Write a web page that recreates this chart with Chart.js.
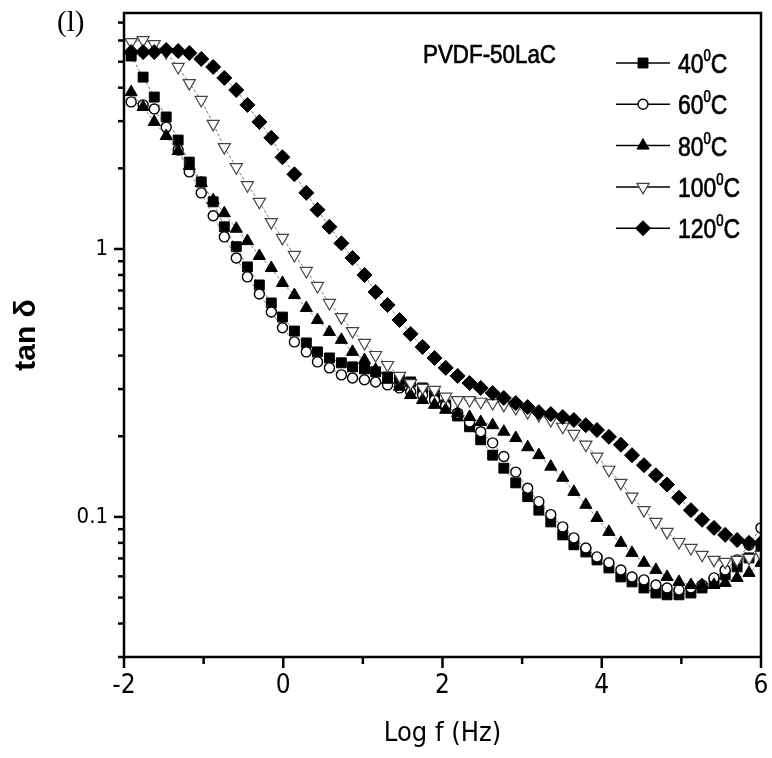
<!DOCTYPE html>
<html><head><meta charset="utf-8">
<script src="https://cdn.jsdelivr.net/npm/chart.js@4"></script>
<style>html,body{margin:0;padding:0;background:#fff}</style>
</head><body>
<canvas id="c" width="772" height="758"></canvas>
<script>
// ---- data ----
const logF = [-1.91,-1.76,-1.62,-1.47,-1.32,-1.18,-1.03,-0.88,-0.74,-0.59,-0.45,-0.30,-0.15,-0.01,0.14,0.29,0.43,0.58,0.73,0.87,1.02,1.16,1.31,1.46,1.60,1.75,1.90,2.04,2.19,2.34,2.48,2.63,2.77,2.92,3.07,3.21,3.36,3.51,3.65,3.80,3.94,4.09,4.24,4.38,4.53,4.68,4.82,4.97,5.12,5.26,5.41,5.55,5.70,5.85,6.00];
const tan40 = [5.25,4.38,3.69,3.11,2.55,2.11,1.78,1.50,1.21,1.02,0.857,0.734,0.629,0.557,0.494,0.446,0.413,0.392,0.376,0.363,0.357,0.348,0.333,0.325,0.319,0.303,0.285,0.262,0.238,0.217,0.194,0.170,0.152,0.134,0.119,0.106,0.0958,0.0857,0.0787,0.0740,0.0691,0.0645,0.0597,0.0572,0.0543,0.0520,0.0512,0.0512,0.0520,0.0543,0.0572,0.0608,0.0651,0.0703,0.0766];
const tan60 = [3.54,3.45,3.33,2.85,2.34,1.94,1.62,1.33,1.11,0.926,0.787,0.679,0.582,0.508,0.450,0.413,0.379,0.360,0.339,0.330,0.325,0.319,0.311,0.303,0.293,0.285,0.273,0.260,0.244,0.226,0.208,0.189,0.168,0.147,0.128,0.114,0.102,0.0918,0.0835,0.0766,0.0709,0.0674,0.0634,0.0597,0.0582,0.0557,0.0543,0.0534,0.0543,0.0557,0.0592,0.0634,0.0691,0.0786,0.0910];
const tan80 = [3.85,3.39,2.98,2.64,2.32,2.04,1.76,1.52,1.36,1.19,1.07,0.942,0.849,0.747,0.673,0.602,0.543,0.490,0.458,0.413,0.385,0.354,0.325,0.306,0.285,0.273,0.262,0.251,0.244,0.236,0.226,0.220,0.208,0.197,0.182,0.170,0.154,0.140,0.124,0.111,0.0991,0.0879,0.0800,0.0734,0.0674,0.0634,0.0597,0.0572,0.0557,0.0557,0.0557,0.0567,0.0592,0.0618,0.0674];
const tan100 = [5.92,6.02,5.82,5.43,4.78,4.16,3.60,2.93,2.40,2.02,1.73,1.50,1.26,1.10,0.950,0.828,0.728,0.629,0.557,0.494,0.446,0.402,0.369,0.336,0.316,0.303,0.298,0.281,0.273,0.273,0.269,0.266,0.262,0.255,0.246,0.240,0.230,0.217,0.204,0.186,0.168,0.150,0.134,0.119,0.106,0.0958,0.0879,0.0806,0.0766,0.0722,0.0691,0.0680,0.0691,0.0703,0.0722];
const tan120 = [5.43,5.43,5.43,5.53,5.48,5.39,5.12,4.78,4.35,3.92,3.45,2.98,2.60,2.20,1.90,1.62,1.40,1.21,1.05,0.926,0.800,0.691,0.618,0.543,0.482,0.431,0.392,0.360,0.336,0.316,0.303,0.290,0.278,0.266,0.257,0.246,0.242,0.236,0.230,0.220,0.211,0.199,0.186,0.170,0.156,0.143,0.132,0.118,0.106,0.0975,0.0910,0.0857,0.0820,0.0800,0.0800];
const seriesLabels = ['40⁰C','60⁰C','80⁰C','100⁰C','120⁰C'];
const xTickValues = [-2,-1,0,1,2,3,4,5,6];
const xTickLabels = ['-2','','0','','2','','4','','6'];
const yMajorTicks = [0.1,1];
const yMajorLabels = ['0.1','1'];
const yMinorTicks = [0.03,0.04,0.05,0.06,0.07,0.08,0.09,0.2,0.3,0.4,0.5,0.6,0.7,0.8,0.9,2,3,4,5,6,7];
const sampleName = 'PVDF-50LaC';
const panelLabel = '(l)';
const xTitle = 'Log f (Hz)';
const yTitle = 'tan δ';

// ---- styles ----
const NARROW = '"Liberation Sans Narrow","Arial Narrow","DejaVu Sans Condensed",sans-serif';
const SANS = '"Liberation Sans",Arial,sans-serif';
const styles = [
  {pointStyle:'rect', radius:7, rot:0, fill:'#000', stroke:'#000', bw:1},
  {pointStyle:'circle', radius:5, rot:0, fill:'#fff', stroke:'#000', bw:1.4},
  {pointStyle:'triangle', radius:7, rot:0, fill:'#000', stroke:'#000', bw:1},
  {pointStyle:'triangle', radius:7, rot:180, fill:'#fff', stroke:'#444', bw:1.2},
  {pointStyle:'rectRot', radius:7.5, rot:0, fill:'#000', stroke:'#000', bw:1}
];
const seriesValues = [tan40, tan60, tan80, tan100, tan120];

const datasets = seriesValues.map((vals, i) => ({
  label: seriesLabels[i],
  data: logF.map((x, j) => ({x: x, y: vals[j]})),
  order: 5 - i,
  borderColor: 'rgba(90,90,90,0.8)',
  borderWidth: 1,
  borderDash: [3, 2],
  tension: 0,
  fill: false,
  pointStyle: styles[i].pointStyle,
  pointRadius: styles[i].radius,
  pointRotation: styles[i].rot,
  pointBackgroundColor: styles[i].fill,
  pointBorderColor: styles[i].stroke,
  pointBorderWidth: styles[i].bw
}));

const framePlugin = {
  id: 'frame',
  afterDatasetsDraw(chart) {
    const {ctx, chartArea: a, scales} = chart;
    ctx.save();
    ctx.strokeStyle = '#000';
    ctx.lineWidth = 2.5;
    ctx.strokeRect(a.left, a.top, a.right - a.left, a.bottom - a.top);
    scales.x.ticks.forEach((t, i) => {
      const px = scales.x.getPixelForValue(t.value);
      const len = xTickLabels[i] ? 11 : 7;
      ctx.beginPath(); ctx.moveTo(px, a.bottom); ctx.lineTo(px, a.bottom + len); ctx.stroke();
    });
    scales.y.ticks.forEach(t => {
      const py = scales.y.getPixelForValue(t.value);
      const len = yMajorTicks.includes(t.value) ? 10 : 6;
      ctx.beginPath(); ctx.moveTo(a.left, py); ctx.lineTo(a.left - len, py); ctx.stroke();
    });
    ctx.restore();
  }
};

// draws text horizontally condensed (Arial-Narrow look) at x,y
function narrowText(ctx, text, x, y, size, sx) {
  ctx.save();
  ctx.translate(x, y); ctx.scale(sx, 1);
  ctx.font = size + 'px ' + SANS;
  ctx.fillText(text, 0, 0);
  ctx.lineWidth = 0.7; ctx.strokeStyle = '#000';
  ctx.strokeText(text, 0, 0);
  const w = ctx.measureText(text).width * sx;
  ctx.restore();
  return w;
}

const legendPlugin = {
  id: 'customLegend',
  afterDraw(chart) {
    const ctx = chart.ctx;
    ctx.save();
    seriesLabels.forEach((label, i) => {
      const y = 63 + i * 41.3;
      ctx.strokeStyle = '#000'; ctx.lineWidth = 1.5; ctx.setLineDash([]);
      ctx.beginPath(); ctx.moveTo(616, y); ctx.lineTo(670, y); ctx.stroke();
      const s = styles[i];
      ctx.fillStyle = s.fill; ctx.strokeStyle = s.stroke; ctx.lineWidth = s.bw;
      Chart.helpers.drawPoint(ctx, {pointStyle: s.pointStyle, rotation: s.rot, radius: s.radius, borderWidth: s.bw}, 643, y);
      const parts = label.split('⁰');
      ctx.fillStyle = '#000'; ctx.textBaseline = 'alphabetic'; ctx.textAlign = 'left';
      let tx = 678; const by = y + 10;
      tx += narrowText(ctx, parts[0], tx, by, 28, 0.82);
      tx += narrowText(ctx, '0', tx, by - 12, 16, 0.82);
      narrowText(ctx, parts[1], tx, by, 28, 0.82);
    });
    ctx.fillStyle = '#000';
    narrowText(ctx, sampleName, 423, 63, 26, 0.86);
    ctx.font = '29px "Liberation Serif","Times New Roman",serif';
    ctx.fillText(panelLabel, 57, 31);
    ctx.restore();
  }
};

new Chart(document.getElementById('c'), {
  type: 'line',
  data: {datasets},
  options: {
    responsive: false,
    animation: false,
    layout: {padding: {top: 13, right: 11, left: 0, bottom: 0}},
    plugins: {legend: {display: false}, tooltip: {enabled: false}},
    scales: {
      x: {
        type: 'linear', min: -2, max: 6,
        afterBuildTicks: s => { s.ticks = xTickValues.map(v => ({value: v})); },
        afterFit: s => { s.height = 101; s.paddingLeft = 0; s.paddingRight = 0; },
        grid: {display: false, drawTicks: false},
        border: {display: false},
        ticks: {autoSkip: false, maxRotation: 0, padding: 14, color: '#000',
          font: {family: NARROW, size: 26},
          callback: (v, i) => xTickLabels[i]},
        title: {display: true, text: xTitle, color: '#000',
          font: {family: NARROW, size: 27}, padding: {top: 0, bottom: 8}}
      },
      y: {
        type: 'logarithmic', min: 0.03, max: 7.6,
        afterBuildTicks: s => { s.ticks = yMinorTicks.concat(yMajorTicks).sort((a,b)=>a-b).map(v => ({value: v})); },
        afterFit: s => { s.width = 124; s.paddingTop = 0; s.paddingBottom = 0; },
        grid: {display: false, drawTicks: false},
        border: {display: false},
        ticks: {autoSkip: false, padding: 16, color: '#000',
          font: {family: NARROW, size: 22},
          callback: v => { const k = yMajorTicks.indexOf(v); return k >= 0 ? yMajorLabels[k] : ''; }},
        title: {display: true, text: yTitle, color: '#000',
          font: {family: SANS, size: 30, weight: 'bold'}, padding: {top: 9, bottom: 0}}
      }
    }
  },
  plugins: [framePlugin, legendPlugin]
});
</script>
</body></html>
